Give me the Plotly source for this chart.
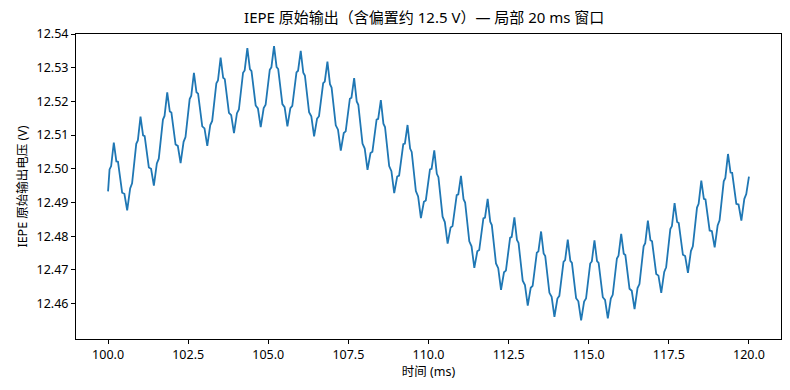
import plotly.graph_objects as go

# Time (ms) of digitised vertices of the IEPE output waveform
time_ms = [
    100.000, 100.047, 100.097,
    100.180, 100.260, 100.310, 100.440, 100.510, 100.597, 100.690, 100.750, 100.880, 100.930,
    101.013, 101.093, 101.143, 101.273, 101.343, 101.430, 101.523, 101.583, 101.713, 101.763,
    101.847, 101.927, 101.977, 102.107, 102.177, 102.264, 102.357, 102.417, 102.547, 102.597,
    102.680, 102.760, 102.810, 102.940, 103.010, 103.097, 103.190, 103.250, 103.380, 103.430,
    103.513, 103.593, 103.643, 103.773, 103.843, 103.930, 104.023, 104.083, 104.213, 104.263,
    104.347, 104.427, 104.477, 104.607, 104.677, 104.764, 104.857, 104.917, 105.047, 105.097,
    105.180, 105.260, 105.310, 105.440, 105.510, 105.597, 105.690, 105.750, 105.880, 105.930,
    106.013, 106.093, 106.143, 106.273, 106.343, 106.430, 106.523, 106.583, 106.713, 106.763,
    106.846, 106.926, 106.976, 107.106, 107.176, 107.263, 107.356, 107.416, 107.546, 107.596,
    107.680, 107.760, 107.810, 107.940, 108.010, 108.097, 108.190, 108.250, 108.380, 108.430,
    108.513, 108.593, 108.643, 108.773, 108.843, 108.930, 109.023, 109.083, 109.213, 109.263,
    109.346, 109.426, 109.476, 109.606, 109.676, 109.763, 109.856, 109.916, 110.046, 110.096,
    110.180, 110.260, 110.310, 110.440, 110.510, 110.597, 110.690, 110.750, 110.880, 110.930,
    111.013, 111.093, 111.143, 111.273, 111.343, 111.430, 111.523, 111.583, 111.713, 111.763,
    111.846, 111.926, 111.976, 112.106, 112.176, 112.263, 112.356, 112.416, 112.546, 112.596,
    112.680, 112.760, 112.810, 112.940, 113.010, 113.097, 113.190, 113.250, 113.380, 113.430,
    113.513, 113.593, 113.643, 113.773, 113.843, 113.930, 114.023, 114.083, 114.213, 114.263,
    114.346, 114.426, 114.476, 114.606, 114.676, 114.763, 114.856, 114.916, 115.046, 115.096,
    115.179, 115.259, 115.309, 115.439, 115.509, 115.596, 115.689, 115.749, 115.879, 115.929,
    116.013, 116.093, 116.143, 116.273, 116.343, 116.430, 116.523, 116.583, 116.713, 116.763,
    116.846, 116.926, 116.976, 117.106, 117.176, 117.263, 117.356, 117.416, 117.546, 117.596,
    117.679, 117.759, 117.809, 117.939, 118.009, 118.096, 118.189, 118.249, 118.379, 118.429,
    118.513, 118.593, 118.643, 118.773, 118.843, 118.930, 119.023, 119.083, 119.213, 119.263,
    119.346, 119.426, 119.476, 119.606, 119.676, 119.763, 119.856, 119.916,
    120.000,
]

# Raw IEPE output voltage (V) at those vertices
voltage_v = [
    12.4933, 12.4998, 12.5008,
    12.5078, 12.5022, 12.5021, 12.4929, 12.4926, 12.4877, 12.4942, 12.4957, 12.5074, 12.5084,
    12.5155, 12.5099, 12.5097, 12.5004, 12.5000, 12.4950, 12.5016, 12.5030, 12.5146, 12.5157,
    12.5227, 12.5170, 12.5167, 12.5072, 12.5068, 12.5017, 12.5080, 12.5094, 12.5207, 12.5217,
    12.5285, 12.5227, 12.5223, 12.5126, 12.5120, 12.5068, 12.5130, 12.5142, 12.5254, 12.5262,
    12.5330, 12.5270, 12.5266, 12.5166, 12.5159, 12.5106, 12.5165, 12.5176, 12.5285, 12.5292,
    12.5358, 12.5296, 12.5290, 12.5188, 12.5179, 12.5124, 12.5180, 12.5190, 12.5294, 12.5301,
    12.5364, 12.5302, 12.5296, 12.5192, 12.5183, 12.5126, 12.5180, 12.5187, 12.5286, 12.5291,
    12.5350, 12.5285, 12.5277, 12.5168, 12.5156, 12.5096, 12.5149, 12.5156, 12.5254, 12.5259,
    12.5318, 12.5251, 12.5241, 12.5129, 12.5116, 12.5054, 12.5106, 12.5111, 12.5208, 12.5211,
    12.5269, 12.5200, 12.5190, 12.5075, 12.5060, 12.4997, 12.5047, 12.5051, 12.5146, 12.5148,
    12.5204, 12.5134, 12.5124, 12.5008, 12.4993, 12.4928, 12.4977, 12.4980, 12.5073, 12.5075,
    12.5130, 12.5060, 12.5050, 12.4934, 12.4918, 12.4854, 12.4902, 12.4906, 12.4998, 12.5000,
    12.5055, 12.4985, 12.4975, 12.4858, 12.4842, 12.4778, 12.4826, 12.4830, 12.4922, 12.4924,
    12.4979, 12.4910, 12.4900, 12.4785, 12.4770, 12.4706, 12.4755, 12.4759, 12.4853, 12.4855,
    12.4911, 12.4843, 12.4833, 12.4719, 12.4705, 12.4641, 12.4693, 12.4698, 12.4795, 12.4798,
    12.4856, 12.4789, 12.4780, 12.4668, 12.4655, 12.4594, 12.4647, 12.4653, 12.4751, 12.4755,
    12.4814, 12.4749, 12.4741, 12.4632, 12.4620, 12.4561, 12.4615, 12.4623, 12.4724, 12.4729,
    12.4790, 12.4727, 12.4721, 12.4616, 12.4607, 12.4550, 12.4606, 12.4615, 12.4719, 12.4725,
    12.4788, 12.4726, 12.4721, 12.4619, 12.4611, 12.4556, 12.4615, 12.4626, 12.4734, 12.4742,
    12.4807, 12.4748, 12.4744, 12.4644, 12.4638, 12.4584, 12.4646, 12.4658, 12.4770, 12.4779,
    12.4846, 12.4788, 12.4785, 12.4688, 12.4683, 12.4632, 12.4694, 12.4708, 12.4821, 12.4830,
    12.4898, 12.4842, 12.4839, 12.4745, 12.4741, 12.4691, 12.4756, 12.4770, 12.4885, 12.4896,
    12.4965, 12.4911, 12.4909, 12.4817, 12.4815, 12.4767, 12.4832, 12.4847, 12.4963, 12.4973,
    12.5044, 12.4989, 12.4988, 12.4896, 12.4894, 12.4846, 12.4911, 12.4925,
    12.4977,
]

x_ticks = [100.0, 102.5, 105.0, 107.5, 110.0, 112.5, 115.0, 117.5, 120.0]
y_ticks = [12.46, 12.47, 12.48, 12.49, 12.50, 12.51, 12.52, 12.53, 12.54]

title_text = "IEPE 原始输出（含偏置约 12.5 V）— 局部 20 ms 窗口"
x_label = "时间 (ms)"
y_label = "IEPE 原始输出电压 (V)"

FONT = "Noto Sans, Noto Sans CJK SC, sans-serif"

fig = go.Figure()
fig.add_trace(go.Scatter(
    x=time_ms, y=voltage_v, mode="lines",
    line=dict(color="#1f77b4", width=1.8),
    showlegend=False, hoverinfo="x+y",
))

axis_common = dict(
    showline=True, linecolor="black", linewidth=1, mirror=True,
    ticks="outside", ticklen=4, tickcolor="black", tickwidth=1,
    showgrid=False, zeroline=False, automargin=False,
    tickfont=dict(family=FONT, size=12.5, color="black"),
)

fig.update_layout(
    width=790, height=390,
    margin=dict(l=76, r=9, t=34, b=51),
    paper_bgcolor="white", plot_bgcolor="white",
    font=dict(family=FONT, color="black"),
    title=dict(text=title_text, x=0.537, xref="container", xanchor="center",
               y=1 - 18 / 390, yref="container", yanchor="middle",
               font=dict(family=FONT, size=15, color="black")),
    xaxis=dict(range=[99, 121], tickvals=x_ticks,
               ticktext=[f"{v:.1f}" for v in x_ticks],
               title=dict(text=x_label, standoff=4,
                          font=dict(family=FONT, size=12.5, color="black")),
               **axis_common),
    yaxis=dict(range=[12.4495, 12.54], tickvals=y_ticks,
               ticktext=[f"{v:.2f}" for v in y_ticks],
               title=dict(text=y_label, standoff=6,
                          font=dict(family=FONT, size=12.5, color="black")),
               **axis_common),
)

fig.write_html(
    "out.html",
    config={"displayModeBar": False},
    post_script="document.body.style.margin='0';document.body.style.overflow='hidden';",
)
